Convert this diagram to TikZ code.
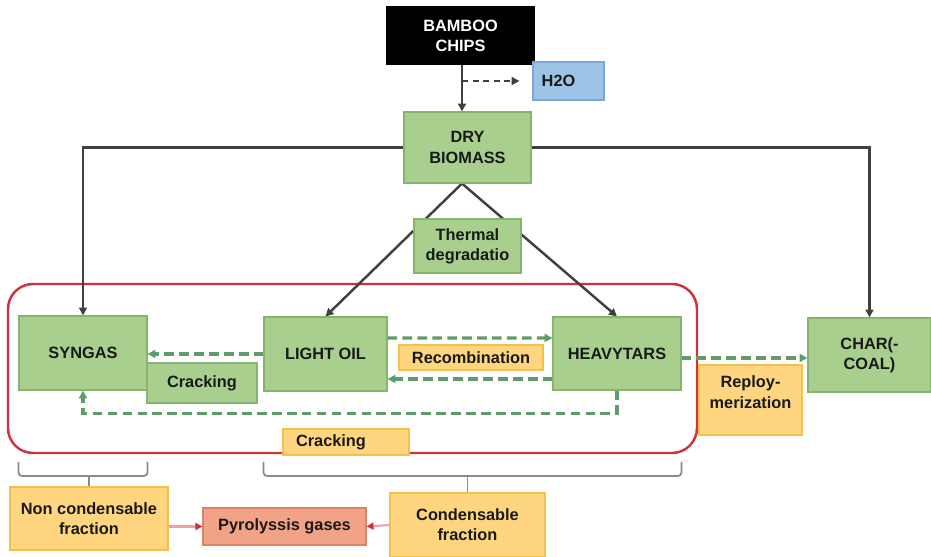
\documentclass[tikz,border=0pt]{standalone}
\usepackage{fontspec}
\setmainfont{Liberation Sans}
\usetikzlibrary{arrows.meta}
\definecolor{boxgreen}{HTML}{A8CF8E}
\definecolor{edgegreen}{HTML}{86B46E}
\definecolor{boxorange}{HTML}{FFD580}
\definecolor{edgeorange}{HTML}{F2C04E}
\definecolor{boxblue}{HTML}{9DC3E6}
\definecolor{edgeblue}{HTML}{7AA7D8}
\definecolor{boxsalmon}{HTML}{F2A287}
\definecolor{edgesalmon}{HTML}{D98468}
\definecolor{flowgreen}{HTML}{5E9C6C}
\definecolor{linegray}{HTML}{404040}
\definecolor{framered}{HTML}{D2313C}
\definecolor{bracegray}{HTML}{8A8A8A}
\definecolor{pinkline}{HTML}{F2A0A8}
\pgfdeclarelayer{background}
\pgfsetlayers{background,main}
\tikzset{
	box/.style={draw, line width=0.6pt, align=center, inner sep=1pt, text=black!90,
		font=\fontsize{9.3}{11.5}\selectfont\bfseries},
	greenbox/.style={box, fill=boxgreen, draw=edgegreen},
	orangebox/.style={box, fill=boxorange, draw=edgeorange},
	solidarrow/.style={draw=linegray, line width=1.4pt, -{Triangle[length=4.5pt,width=4.5pt]}},
	dashflow/.style={draw=flowgreen, line width=1.9pt, dash pattern=on 5.5pt off 3pt,
		-{Triangle[length=4.5pt,width=4.5pt]}},
	bracket/.style={draw=bracegray, line width=1pt, rounded corners=2pt},
}
\begin{document}
\begin{tikzpicture}[x=0.02cm, y=-0.02cm]
	\useasboundingbox (0,0) rectangle (931,557);
	\node[box, fill=black, text=white, minimum width=2.94cm, minimum height=1.14cm] (bamboo) at (460.5,35.5) {BAMBOO\\CHIPS};
	\node[box, fill=boxblue, draw=edgeblue, minimum width=1.42cm, minimum height=0.76cm] (water) at (568.5,81) {H2O\hspace{0.4cm}};
	\node[greenbox, minimum width=2.54cm, minimum height=1.42cm] (dry) at (467.5,147.5) {DRY\\BIOMASS};
	\node[greenbox, minimum width=2.14cm, minimum height=1.08cm] (thermal) at (467.5,246) {Thermal\\degradatio};
	\node[greenbox, minimum width=2.56cm, minimum height=1.48cm] (syngas) at (83,353) {SYNGAS};
	\node[greenbox, minimum width=2.46cm, minimum height=1.48cm] (light) at (325.5,354) {LIGHT OIL};
	\node[greenbox, minimum width=2.56cm, minimum height=1.46cm] (heavy) at (617,353.5) {HEAVYTARS};
	\node[greenbox, minimum width=2.46cm, minimum height=1.48cm] (char) at (869.5,355) {CHAR(-\\COAL)};
	\node[greenbox, minimum width=2.2cm, minimum height=0.8cm] (crackone) at (202,383) {Cracking};
	\node[orangebox, minimum width=2.88cm, minimum height=0.5cm] (recomb) at (471,357.5) {Recombination};
	\node[orangebox, minimum width=2.52cm, minimum height=0.52cm] (cracktwo) at (346,442) {Cracking\hspace{0.6cm}};
	\node[orangebox, minimum width=2.06cm, minimum height=1.4cm] (reploy) at (750.5,400) {Reploy-\\merization\\[-2.5pt]};
	\node[orangebox, minimum width=3.16cm, minimum height=1.26cm] (noncond) at (89,518.5) {Non condensable\\fraction};
	\node[box, fill=boxsalmon, draw=edgesalmon, minimum width=3.26cm, minimum height=0.74cm] (pyro) at (284.5,526.5) {Pyrolyssis gases};
	\node[orangebox, minimum width=3.1cm, minimum height=1.28cm] (cond) at (467.5,525) {Condensable\\fraction};
	\begin{pgfonlayer}{background}
		\draw[framered, line width=1.4pt, rounded corners=0.5cm] (8,284) rectangle (697,453);
		\draw[solidarrow] (bamboo.south -| 462,0) -- (dry.north -| 462,0);
		\draw[solidarrow] (dry.west) -| (syngas.north);
		\draw[solidarrow] (dry.east) -| (char.north);
		\draw[solidarrow] (dry.south -| 462,0) -- (light.north);
		\draw[solidarrow] (dry.south -| 462,0) -- (heavy.north);
	\end{pgfonlayer}
	\draw[draw=linegray, line width=1.2pt, dash pattern=on 3.5pt off 2.5pt, -{Triangle[length=4.5pt,width=4.5pt]}] (water.west -| 462,0) -- ([xshift=-0.26cm]water.west);
	\draw[dashflow] (light.west) -- (syngas.east |- light.west);
	\draw[dashflow] ([yshift=0.32cm]light.east) -- (heavy.west |- 0,338);
	\draw[dashflow] (heavy.west |- 0,379) -- (light.east |- 0,379);
	\draw[dashflow] (heavy.south) -- ++(0,23) -| (syngas.south);
	\draw[dashflow] (heavy.east |- 0,358) -- (char.west |- 0,358);
	\draw[bracket] (syngas.west |- 0,462) -- (syngas.west |- 0,476) -- (syngas.east |- 0,476) -- (syngas.east |- 0,462);
	\draw[bracegray, line width=1pt] (noncond.north |- 0,476) -- (noncond.north);
	\draw[bracket] (light.west |- 0,462) -- (light.west |- 0,476) -- (heavy.east |- 0,476) -- (heavy.east |- 0,462);
	\draw[bracegray, line width=1pt] (cond.north |- 0,476) -- (cond.north);
	\draw[pinkline, line width=1.2pt, -{Triangle[length=4pt,width=4pt, color=framered]}] (noncond.east |- pyro.west) -- (pyro.west);
	\draw[pinkline, line width=1.2pt, -{Triangle[length=4pt,width=4pt, color=framered]}] (cond.west) -- (pyro.east);
\end{tikzpicture}
\end{document}
